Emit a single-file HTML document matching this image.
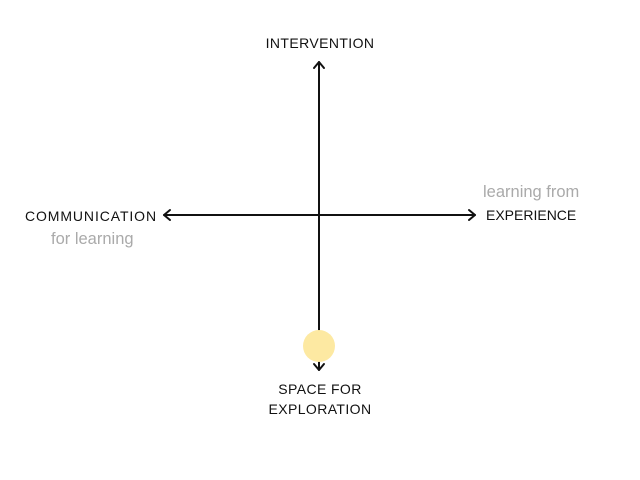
<!DOCTYPE html>
<html><head><style>
html,body{margin:0;padding:0;background:#fff;width:640px;height:480px;overflow:hidden;position:relative;font-family:"Liberation Sans",sans-serif}
.t{position:absolute;white-space:nowrap;font-size:14px;color:#111;line-height:1;letter-spacing:0.4px}
.g{color:#aaa;font-size:16.5px;letter-spacing:0}
</style></head><body>
<svg width="640" height="480" style="position:absolute;left:0;top:0">
<g stroke="#111" stroke-width="2" fill="none" stroke-linecap="round" stroke-linejoin="round">
<line x1="319" y1="62" x2="319" y2="370"/>
<polyline points="314,68 319,62 324,68"/>
<polyline points="314,364 319,370 324,364"/>
<line x1="164" y1="215" x2="475" y2="215"/>
<polyline points="170,210 164,215 170,220"/>
<polyline points="469,210 475,215 469,220"/>
</g>
<circle cx="319" cy="346" r="16" fill="#fde9a2"/>
</svg>
<div class="t" style="left:260px;top:36px;width:120px;text-align:center">INTERVENTION</div>
<div class="t" style="left:25px;top:209px;letter-spacing:0.9px">COMMUNICATION</div>
<div class="t g" style="left:51px;top:231px">for learning</div>
<div class="t g" style="left:483px;top:184px">learning from</div>
<div class="t" style="left:486px;top:208px;letter-spacing:0">EXPERIENCE</div>
<div class="t" style="left:260px;top:382px;width:120px;text-align:center">SPACE FOR</div>
<div class="t" style="left:260px;top:402px;width:120px;text-align:center">EXPLORATION</div>
</body></html>
